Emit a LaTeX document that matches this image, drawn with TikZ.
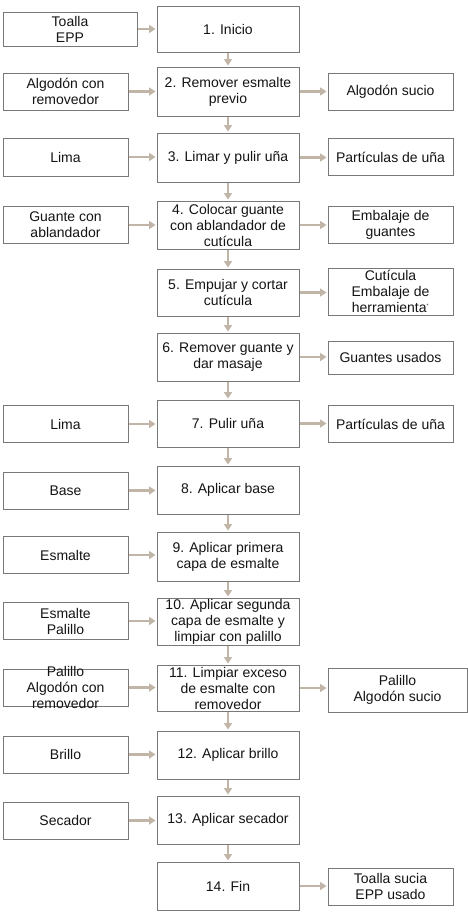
\documentclass[tikz,border=0pt]{standalone}
\usepackage{fontspec}
\setmainfont{Liberation Sans}
\usetikzlibrary{arrows.meta}
\definecolor{bordergray}{RGB}{120,120,120}
\definecolor{arrowbeige}{RGB}{192,181,166}
\definecolor{txtgray}{RGB}{20,20,20}
\begin{document}
\begin{tikzpicture}[x=1pt,y=-1pt,
  box/.style={draw=bordergray, line width=1pt, fill=white, inner sep=0pt},
  cbox/.style={box, minimum width=142pt, minimum height=48pt},
  lbox/.style={box, minimum width=125pt, minimum height=37pt},
  rbox/.style={box, minimum width=125pt, minimum height=37pt},
  lbl/.style={align=center, inner sep=0pt, text=txtgray, font=\fontsize{14}{16}\selectfont},
  flow/.style={draw=arrowbeige, line width=2.5pt, -{Triangle[length=6.5pt,width=8pt]}, shorten >=1pt}
]
\useasboundingbox (0,0) rectangle (468,921);

% centre column
\node[cbox, minimum height=46pt, label={[lbl]center:{1. Inicio}}] (c1) at (228,29) {};
\node[cbox, minimum height=49pt, label={[lbl]center:{2. Remover esmalte\\previo}}] (c2) at (228,91.5) {};
\node[cbox, minimum height=49pt, label={[lbl]center:{3. Limar y pulir uña}}] (c3) at (228,157.5) {};
\node[cbox, label={[lbl]center:{4. Colocar guante\\con ablandador de\\cutícula}}] (c4) at (228,225) {};
\node[cbox, minimum height=47pt, label={[lbl]center:{5. Empujar y cortar\\cutícula}}] (c5) at (228,292.5) {};
\node[cbox, label={[lbl]center:{6. Remover guante y\\dar masaje}}] (c6) at (228,357) {};
\node[cbox, minimum height=47pt, label={[lbl]center:{7. Pulir uña}}] (c7) at (228,423.5) {};
\node[cbox, label={[lbl]center:{8. Aplicar base}}] (c8) at (228,490) {};
\node[cbox, minimum height=49pt, label={[lbl]center:{9. Aplicar primera\\capa de esmalte}}] (c9) at (228,556.5) {};
\node[cbox, minimum height=47pt, label={[lbl]center:{10. Aplicar segunda\\capa de esmalte y\\limpiar con palillo}}] (c10) at (228,621.5) {};
\node[cbox, minimum height=46pt, label={[lbl]center:{11. Limpiar exceso\\de esmalte con\\removedor}}] (c11) at (228,688) {};
\node[cbox, label={[lbl]center:{12. Aplicar brillo}}] (c12) at (228,755) {};
\node[cbox, label={[lbl]center:{13. Aplicar secador}}] (c13) at (228,820) {};
\node[cbox, label={[lbl]center:{14. Fin}}] (c14) at (228,886) {};

% left column
\node[lbox, minimum width=134pt, minimum height=34pt, label={[lbl]center:{Toalla\\EPP}}] (l1) at (70,29) {};
\node[lbox, label={[lbl]center:{Algodón con\\removedor}}] (l2) at (65.5,91.5) {};
\node[lbox, minimum height=38pt, label={[lbl]center:{Lima}}] (l3) at (65.5,157) {};
\node[lbox, label={[lbl]center:{Guante con\\ablandador}}] (l4) at (65.5,225) {};
\node[lbox, label={[lbl]center:{Lima}}] (l7) at (65.5,424) {};
\node[lbox, label={[lbl]center:{Base}}] (l8) at (65.5,490.5) {};
\node[lbox, label={[lbl]center:{Esmalte}}] (l9) at (65.5,555) {};
\node[lbox, label={[lbl]center:{Esmalte\\Palillo}}] (l10) at (65.5,621) {};
\node[lbox, label={[lbl]center:{Palillo\\Algodón con\\removedor}}] (l11) at (65.5,687.5) {};
\node[lbox, label={[lbl]center:{Brillo}}] (l12) at (65.5,754.5) {};
\node[lbox, label={[lbl]center:{Secador}}] (l13) at (65.5,820.5) {};

% right column
\node[rbox, label={[lbl]center:{Algodón sucio}}] (r2) at (390.5,91.5) {};
\node[rbox, label={[lbl]center:{Partículas de uña}}] (r3) at (390.5,157) {};
\node[rbox, label={[lbl]center:{Embalaje de\\guantes}}] (r4) at (390.5,224.5) {};
\node[rbox, minimum height=47pt, label={[lbl]center:{Cutícula\\Embalaje de\\herramienta\textsuperscript{\tiny *}}}] (r5) at (390.5,291.5) {};
\node[rbox, minimum height=33pt, label={[lbl]center:{Guantes usados}}] (r6) at (390.5,357.5) {};
\node[rbox, label={[lbl]center:{Partículas de uña}}] (r7) at (390.5,424) {};
\node[rbox, minimum width=139pt, minimum height=44pt, label={[lbl]center:{Palillo\\Algodón sucio}}] (r11) at (397.5,690) {};
\node[rbox, label={[lbl]center:{Toalla sucia\\EPP usado}}] (r14) at (390.5,886.5) {};

% vertical flow
\foreach \a/\b in {c1/c2,c2/c3,c3/c4,c4/c5,c5/c6,c6/c7,c7/c8,c8/c9,c9/c10,c10/c11,c11/c12,c12/c13,c13/c14}
  \draw[flow] (\a.south) -- (\b.north);

% inputs
\foreach \a/\b in {l1/c1,l2/c2,l3/c3,l4/c4,l7/c7,l8/c8,l9/c9,l10/c10,l11/c11,l12/c12,l13/c13}
  \draw[flow] (\a.east) -- (\a.east -| \b.west);

% outputs
\foreach \a/\b in {c2/r2,c3/r3,c4/r4,c5/r5,c6/r6,c7/r7,c11/r11,c14/r14}
  \draw[flow] (\a.east) -- (\a.east -| \b.west);
\end{tikzpicture}
\end{document}
